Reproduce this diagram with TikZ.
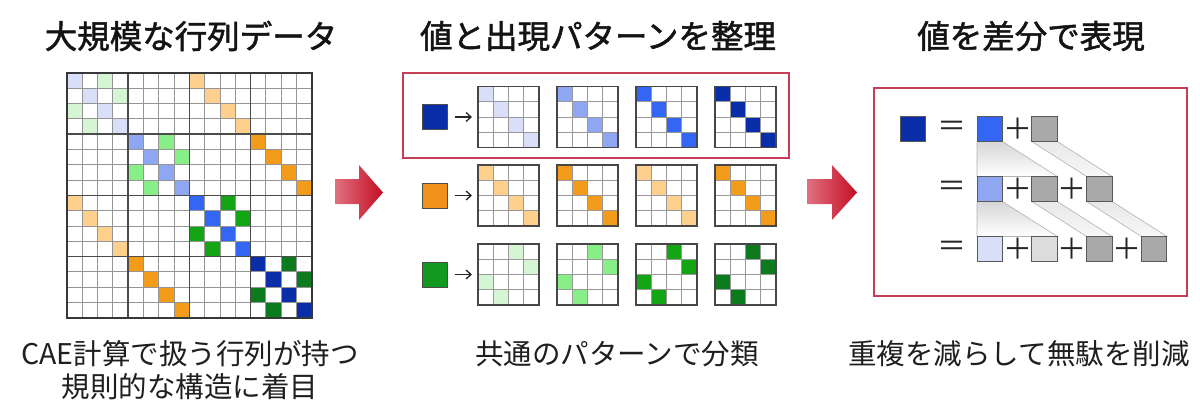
\documentclass[tikz,border=0pt]{standalone}
\usepackage{fontspec}
\setmainfont{Noto Sans CJK JP}
\newfontfamily\titlefont[FakeBold=1.6]{Noto Sans CJK JP}
\usetikzlibrary{arrows.meta,calc}
\definecolor{bl1}{HTML}{D9DFF8}
\definecolor{bl2}{HTML}{8FA7F2}
\definecolor{bl3}{HTML}{3366F2}
\definecolor{bl4}{HTML}{0A2DAA}
\definecolor{gr1}{HTML}{D5F5D5}
\definecolor{gr2}{HTML}{88EE88}
\definecolor{gr3}{HTML}{14A514}
\definecolor{gr4}{HTML}{0E7A1E}
\definecolor{or1}{HTML}{FDD08E}
\definecolor{or2}{HTML}{F39C1C}
\definecolor{orleg}{HTML}{F0921A}
\definecolor{grleg}{HTML}{13991F}
\definecolor{redbox}{HTML}{C43E56}
\definecolor{gsq}{HTML}{A9A9A9}
\definecolor{gsqp}{HTML}{DCDCDC}
\definecolor{arrL}{HTML}{E07080}
\definecolor{arrR}{HTML}{C30F23}
\tikzset{
  title/.style={font=\fontsize{32.5}{38}\selectfont\titlefont, text=black!92, inner sep=0},
  caption/.style={font=\fontsize{28.5}{33}\selectfont, text=black!88, inner sep=0, align=center},
  cellgrid/.style={draw=black!42, line width=1pt},
  blockgrid/.style={draw=black!70, line width=1.5pt},
  minigrid/.style={draw=black!40, line width=1pt},
  minibox/.style={draw=black!72, line width=1.4pt, minimum size=61pt, inner sep=0, outer sep=0},
  legsq/.style={draw=black!70, line width=0.9pt, minimum size=25pt, inner sep=0, outer sep=0},
  valsq/.style={draw=black!65, line width=0.9pt, minimum size=25.5pt, inner sep=0, outer sep=0},
  smallarrow/.style={-{Straight Barb[length=5pt,width=9pt]}, line width=1.3pt, black!85},
  redframe/.style={draw=redbox, line width=1.5pt},
  opsign/.style={font=\fontsize{29}{30}\selectfont, inner sep=0, text=black!85},
  band/.style={draw=gray!60, line width=0.6pt},
  bigarrow/.style={left color=arrL, right color=arrR, draw=none}
}
% big matrix cell: col, row, colour
\newcommand\bigcell[3]{\fill[#3] ({67+(#1)*15.3},{73+(#2)*15.3}) rectangle +(15.3,15.3);}
% mini matrix: name, cx, cy, colour, cells c/r
\newcommand\minimat[5]{%
  \foreach \c/\r in {#5} {\fill[#4] ({#2-30.5+\c*15.25},{#3-30.5+\r*15.25}) rectangle +(15.25,15.25);}
  \foreach \k in {1,2,3} {\draw[minigrid] ({#2-30.5+\k*15.25},{#3-30.5}) -- +(0,61);
    \draw[minigrid] ({#2-30.5},{#3-30.5+\k*15.25}) -- +(61,0);}
  \node[minibox] (#1) at (#2,#3) {};
}
\begin{document}
\begin{tikzpicture}[x=1pt,y=-1pt]
\useasboundingbox[fill=white] (0,0) rectangle (1200,420);

% titles
\node[title] (t1) at (191,36) {大規模な行列データ};
\node[title] (t2) at (598,36) {値と出現パターンを整理};
\node[title] (t3) at (1031,36) {値を差分で表現};

% ---------- big matrix ----------
\foreach \i in {0,1,2,3} {
  \bigcell{\i}{\i}{bl1}
  \bigcell{4+\i}{4+\i}{bl2}
  \bigcell{8+\i}{8+\i}{bl3}
  \bigcell{12+\i}{12+\i}{bl4}
  \bigcell{8+\i}{\i}{or1}
  \bigcell{\i}{8+\i}{or1}
  \bigcell{12+\i}{4+\i}{or2}
  \bigcell{4+\i}{12+\i}{or2}
}
\foreach \c/\r in {2/0,3/1,0/2,1/3} {
  \bigcell{\c}{\r}{gr1}
  \bigcell{4+\c}{4+\r}{gr2}
  \bigcell{8+\c}{8+\r}{gr3}
  \bigcell{12+\c}{12+\r}{gr4}
}
\foreach \k in {1,2,3,5,6,7,9,10,11,13,14,15} {
  \draw[cellgrid] ({67+\k*15.3},73) -- +(0,244.8);
  \draw[cellgrid] (67,{73+\k*15.3}) -- +(244.8,0);
}
\foreach \k in {4,8,12} {
  \draw[blockgrid] ({67+\k*15.3},73) -- +(0,244.8);
  \draw[blockgrid] (67,{73+\k*15.3}) -- +(244.8,0);
}
\node[draw=black!78, line width=1.8pt, minimum size=244.8pt, inner sep=0] (bigmat) at (189.4,195.4) {};

% ---------- big arrows ----------
\shade[bigarrow] (335,179) -- (359,179) -- (359,165) -- (383,192.5) -- (359,220) -- (359,204) -- (335,204) -- cycle;
\shade[bigarrow] (807,179) -- (832,179) -- (832,165) -- (857,192.5) -- (832,220) -- (832,204) -- (807,204) -- cycle;

% ---------- middle panel ----------
\draw[redframe] (403,73) rectangle (789,158);

\node[legsq, fill=bl4] (lb) at (435,117) {};
\node[legsq, fill=orleg] (lo) at (435,195.5) {};
\node[legsq, fill=grleg] (lg) at (435,274.5) {};

\minimat{mb1}{508.5}{117}{bl1}{0/0,1/1,2/2,3/3}
\minimat{mb2}{587.5}{117}{bl2}{0/0,1/1,2/2,3/3}
\minimat{mb3}{666.5}{117}{bl3}{0/0,1/1,2/2,3/3}
\minimat{mb4}{745.5}{117}{bl4}{0/0,1/1,2/2,3/3}

\minimat{mo1}{508.5}{195.5}{or1}{0/0,1/1,2/2,3/3}
\minimat{mo2}{587.5}{195.5}{or2}{0/0,1/1,2/2,3/3}
\minimat{mo3}{666.5}{195.5}{or1}{0/0,1/1,2/2,3/3}
\minimat{mo4}{745.5}{195.5}{or2}{0/0,1/1,2/2,3/3}

\minimat{mg1}{508.5}{274.5}{gr1}{2/0,3/1,0/2,1/3}
\minimat{mg2}{587.5}{274.5}{gr2}{2/0,3/1,0/2,1/3}
\minimat{mg3}{666.5}{274.5}{gr3}{2/0,3/1,0/2,1/3}
\minimat{mg4}{745.5}{274.5}{gr4}{2/0,3/1,0/2,1/3}

\draw[smallarrow, shorten <=7pt, shorten >=6pt] (lb) -- (mb1);
\draw[smallarrow, shorten <=7pt, shorten >=6pt] (lo) -- (mo1);
\draw[smallarrow, shorten <=7pt, shorten >=6pt] (lg) -- (mg1);

% ---------- right panel ----------
\draw[redframe] (874,88) rectangle (1187,296);

% bands row1 -> row2
\shade[band, top color=black!16, bottom color=white] (977,141.5) -- (1002.5,141.5) -- (1057.3,176.5) -- (977,176.5) -- cycle;
\shade[band, top color=black!9, bottom color=black!3] (1031.8,141.5) -- (1057.3,141.5) -- (1112.1,176.5) -- (1086.6,176.5) -- cycle;
% bands row2 -> row3
\shade[band, top color=black!16, bottom color=white] (977,201.5) -- (1002.5,201.5) -- (1057.3,236.5) -- (977,236.5) -- cycle;
\shade[band, top color=black!9, bottom color=black!3] (1031.8,201.5) -- (1057.3,201.5) -- (1112.1,236.5) -- (1086.6,236.5) -- cycle;
\shade[band, top color=black!9, bottom color=black!3] (1086.6,201.5) -- (1112.1,201.5) -- (1166.9,236.5) -- (1141.4,236.5) -- cycle;

\node[valsq, fill=bl4] (v0) at (912.7,128.7) {};
\node[opsign] (e1) at (952,128.7) {＝};
\node[valsq, fill=bl3] (a10) at (989.7,128.7) {};
\node[opsign] (p11) at (1017.5,128.7) {＋};
\node[valsq, fill=gsq] (a11) at (1044.5,128.7) {};

\node[opsign] (e2) at (952,188.7) {＝};
\node[valsq, fill=bl2] (a20) at (989.7,188.7) {};
\node[opsign] (p21) at (1017.5,188.7) {＋};
\node[valsq, fill=gsq] (a21) at (1044.5,188.7) {};
\node[opsign] (p22) at (1072.3,188.7) {＋};
\node[valsq, fill=gsq] (a22) at (1099.3,188.7) {};

\node[opsign] (e3) at (952,248.7) {＝};
\node[valsq, fill=bl1] (a30) at (989.7,248.7) {};
\node[opsign] (p31) at (1017.5,248.7) {＋};
\node[valsq, fill=gsqp] (a31) at (1044.5,248.7) {};
\node[opsign] (p32) at (1072.3,248.7) {＋};
\node[valsq, fill=gsq] (a32) at (1099.3,248.7) {};
\node[opsign] (p33) at (1127,248.7) {＋};
\node[valsq, fill=gsq] (a33) at (1154.1,248.7) {};

% captions
\node[caption] (c1) at (190,370.5) {CAE計算で扱う行列が持つ\\規則的な構造に着目};
\node[caption] (c2) at (617,354) {共通のパターンで分類};
\node[caption] (c3) at (1019,354) {重複を減らして無駄を削減};
\end{tikzpicture}
\end{document}
